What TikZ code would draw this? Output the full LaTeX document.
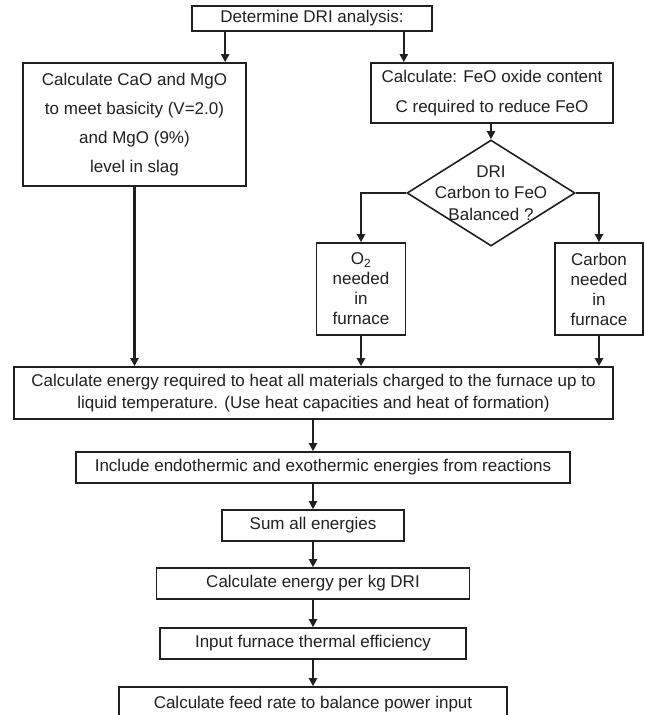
\documentclass[tikz,border=0pt]{standalone}
\usepackage{fontspec}
\setmainfont{Liberation Sans}
\usetikzlibrary{arrows.meta,shapes.geometric,calc}
\definecolor{ink}{HTML}{231F20}
\newcommand{\ftxt}[1]{\fontsize{17}{#1}\selectfont}
\begin{document}
\begin{tikzpicture}[x=1pt,y=-1pt,
  box/.style 2 args={draw=ink,line width=1.6pt,inner sep=0pt,minimum width=#1,minimum height=#2,align=center,text=ink,font=\ftxt{20}},
  dec/.style={draw=ink,line width=1.6pt,diamond,inner sep=0pt,minimum width=168,minimum height=106},
  arr/.style={draw=ink,line width=2.2pt,-{Triangle[length=8pt,width=8pt]}}]
\useasboundingbox (0,0) rectangle (645,715);
\clip (0,0) rectangle (645,715);
\node[box={240}{25}] (top) at (312,18.5) {Determine DRI analysis:};
\node[box={223}{123},font=\ftxt{29}] (cao) at (134.5,124.5) {Calculate CaO and MgO\\to meet basicity (V=2.0)\\and MgO (9\%)\\level in slag};
\node[box={242}{60},font=\ftxt{30}] (feo) at (492,93) {Calculate: FeO oxide content\\C required to reduce FeO};
\node[dec] (dec) at (491,193) {};
\node[align=center,text=ink,font=\ftxt{21.5},inner sep=0pt] (dect) at (491,193) {DRI\\Carbon to FeO\\Balanced ?};
\node[box={89}{92},font=\ftxt{20}] (o2) at (361,289) {O\textsubscript{2}\\needed\\in\\furnace};
\node[box={88}{92},font=\ftxt{20}] (carb) at (599,289) {Carbon\\needed\\in\\furnace};
\node[box={599}{52},font=\ftxt{22}] (energy) at (313.5,393) {Calculate energy required to heat all materials charged to the furnace up to\\liquid temperature. (Use heat capacities and heat of formation)};
\node[box={494}{31}] (incl) at (323,467.5) {Include endothermic and exothermic energies from reactions};
\node[box={182}{31}] (sum) at (313,525.5) {Sum all energies};
\node[box={313}{31}] (kg) at (313,583.5) {Calculate energy per kg DRI};
\node[box={306}{31}] (inp) at (313,643.5) {Input furnace thermal efficiency};
\node[box={388}{34}] (feed) at (313,704) {Calculate feed rate to balance power input};
\draw[arr] ($(top.south west)+(34,0)$) coordinate (a1) -- (a1 |- cao.north);
\draw[arr] ($(top.south east)+(-29,0)$) coordinate (a2) -- (a2 |- feo.north);
\draw[arr] (feo.south -| dec.north) -- (dec.north);
\draw[arr] (dec.west) -| (o2.north);
\draw[arr] (dec.east) -| (carb.north);
\draw[arr] (cao.south) -- (cao.south |- energy.north);
\draw[arr] (o2.south) -- (o2.south |- energy.north);
\draw[arr] (carb.south) -- (carb.south |- energy.north);
\draw[arr] (energy.south -| sum.north) -- (incl.north -| sum.north);
\draw[arr] (incl.south -| sum.north) -- (sum.north);
\draw[arr] (sum.south) -- (kg.north);
\draw[arr] (kg.south) -- (inp.north);
\draw[arr] (inp.south) -- (feed.north);
\end{tikzpicture}
\end{document}
